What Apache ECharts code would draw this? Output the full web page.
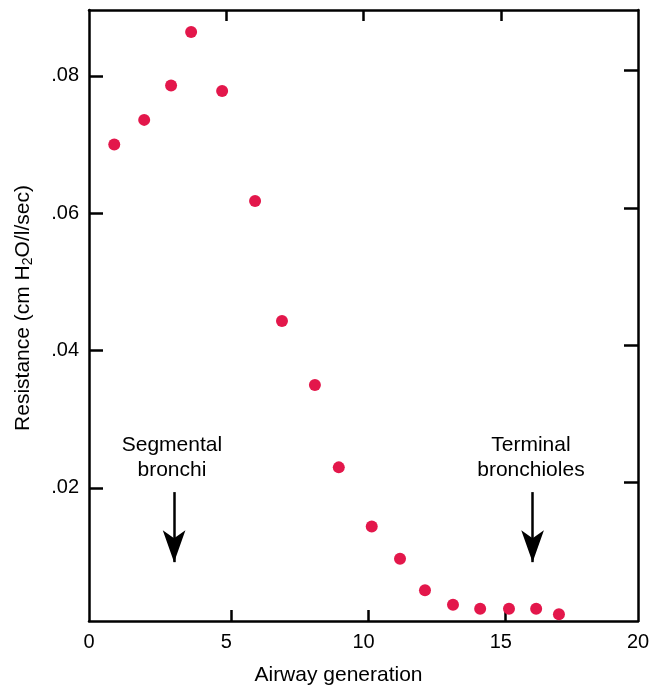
<!DOCTYPE html>
<html>
<head>
<meta charset="utf-8">
<script src="https://cdn.jsdelivr.net/npm/echarts@6/dist/echarts.min.js"></script>
<style>
  html, body { margin: 0; padding: 0; background: #fff; }
  #chart { width: 665px; height: 688px; }
</style>
</head>
<body>
<div id="chart"></div>
<script>
// airway generation vs resistance
var generation = [0.92, 2.01, 2.99, 3.72, 4.85, 6.05, 7.03, 8.23, 9.10, 10.30, 11.33, 12.24, 13.26, 14.25, 15.30, 16.29, 17.12];
var resistance = [0.0700, 0.0736, 0.0786, 0.0864, 0.0778, 0.0618, 0.0443, 0.0350, 0.0230, 0.0144, 0.0097, 0.0051, 0.0030, 0.0024, 0.0024, 0.0024, 0.0016];
var xTicks = [0, 5, 10, 15, 20];
var yTicks = [0.02, 0.04, 0.06, 0.08];
var noteText = ['Segmental\nbronchi', 'Terminal\nbronchioles'];
var noteX = [3.02, 16.10];
var noteY = [0.0244, 0.0244];
var arrowX = [3.10, 16.16];
var arrowTop = [0.0194, 0.0194];
var arrowEnd = [0.0092, 0.0092];

var FONT = 'Liberation Sans';
var mychart = echarts.init(document.getElementById('chart'));

var points = [];
for (var i = 0; i < generation.length; i++) points.push([generation[i], resistance[i]]);
var notes = [];
for (var j = 0; j < noteText.length; j++) notes.push({value: [noteX[j], noteY[j]], text: noteText[j]});
var arrows = [];
for (var k = 0; k < arrowX.length; k++) {
    arrows.push([{coord: [arrowX[k], arrowTop[k]]}, {coord: [arrowX[k], arrowEnd[k]]}]);
}

var frameLine = {show: true, onZero: false, lineStyle: {color: '#000', width: 2.5}};
var tickStyle = {color: '#000', width: 2.5};

var option = {
    animation: false,
    grid: {left: 89, right: 27, top: 10, bottom: 67, containLabel: false, outerBoundsMode: 'none'},
    xAxis: [{
        type: 'value',
        min: 0,
        max: 20,
        interval: 5,
        name: 'Airway generation',
        nameLocation: 'middle',
        nameGap: 44,
        nameTextStyle: {fontFamily: FONT, fontSize: 21, color: '#000', padding: [0, 50, 0, 0]},
        axisLine: frameLine,
        axisTick: {show: true, inside: true, length: 11, customValues: [5.18, 10.18, 15.18], lineStyle: tickStyle},
        axisLabel: {customValues: xTicks, margin: 11, fontFamily: FONT, fontSize: 20, color: '#000'},
        splitLine: {show: false}
    }, {
        type: 'value',
        position: 'top',
        min: 0,
        max: 20,
        interval: 5,
        axisLine: frameLine,
        axisTick: {show: true, inside: true, length: 11, customValues: [5, 10, 15], lineStyle: tickStyle},
        axisLabel: {show: false},
        splitLine: {show: false}
    }],
    yAxis: [{
        type: 'value',
        position: 'left',
        min: 0.00063,
        max: 0.0896,
        axisLine: frameLine,
        axisTick: {show: true, inside: true, length: 14, customValues: yTicks, lineStyle: tickStyle},
        axisLabel: {
            customValues: yTicks,
            margin: 10,
            fontFamily: FONT, fontSize: 20, color: '#000',
            formatter: function (v) { return '.0' + Math.round(v * 100); }
        },
        splitLine: {show: false}
    }, {
        type: 'value',
        position: 'right',
        min: 0.00063,
        max: 0.0896,
        axisLine: frameLine,
        axisTick: {show: true, inside: true, length: 14,
            customValues: yTicks.map(function (v) { return v + 0.0008; }),
            lineStyle: tickStyle},
        axisLabel: {show: false},
        splitLine: {show: false}
    }],
    graphic: [{
        type: 'text',
        x: 23,
        y: 308,
        rotation: Math.PI / 2,
        style: {
            text: '{a|Resistance (cm H}{s|2}{a|O/l/sec)}',
            align: 'center',
            verticalAlign: 'middle',
            fill: '#000',
            rich: {
                a: {fontFamily: FONT, fontSize: 21, fill: '#000'},
                s: {fontFamily: FONT, fontSize: 14, fill: '#000', padding: [11, 0, 0, 0]}
            }
        }
    }],
    series: [{
        name: 'Resistance',
        type: 'scatter',
        symbol: 'circle',
        symbolSize: 12,
        itemStyle: {color: '#e3174b', opacity: 1},
        data: points
    }, {
        name: 'notes',
        type: 'scatter',
        symbolSize: 0,
        silent: true,
        itemStyle: {opacity: 1},
        label: {
            show: true,
            position: 'inside',
            fontFamily: FONT,
            fontSize: 21,
            lineHeight: 25,
            color: '#000',
            opacity: 1,
            formatter: function (p) { return p.data.text; }
        },
        data: notes,
        markLine: {
            silent: true,
            symbol: ['none', 'arrow'],
            symbolSize: [17, 32],
            label: {show: false},
            lineStyle: {color: '#000', width: 2.5, type: 'solid', opacity: 1},
            data: arrows
        }
    }]
};
mychart.setOption(option);
</script>
</body>
</html>
